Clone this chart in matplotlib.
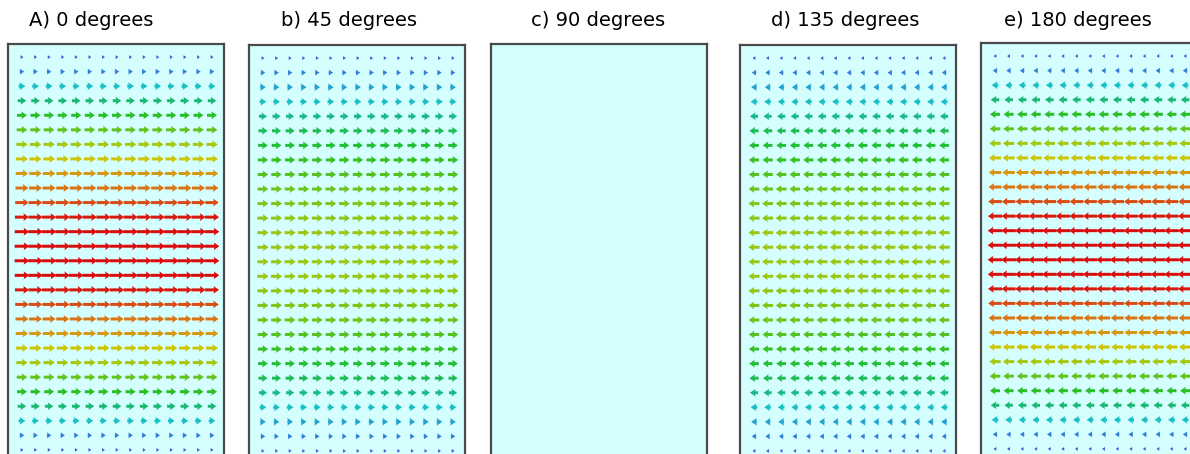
import numpy as np
import matplotlib
matplotlib.use("Agg")
import matplotlib.pyplot as plt
from matplotlib.colors import LinearSegmentedColormap

# Panel titles
titles = ["A) 0 degrees", "b) 45 degrees", "c) 90 degrees", "d) 135 degrees", "e) 180 degrees"]

# Flow direction per panel (+1 right, -1 left, 0 no flow)
directions = [1, 1, 0, -1, -1]

# Normalised speed for each row of arrows, top to bottom
speed_0 = [0.20, 0.30, 0.45, 0.58, 0.68, 0.72, 0.77, 0.81, 0.85, 0.88, 0.92, 0.96, 0.99, 1.00,
           1.00, 0.99, 0.96, 0.92, 0.88, 0.85, 0.81, 0.77, 0.72, 0.68, 0.58, 0.45, 0.30, 0.20]
speed_45 = [0.20, 0.30, 0.38, 0.45, 0.55, 0.62, 0.66, 0.69, 0.71, 0.73, 0.74, 0.75, 0.76, 0.76,
            0.76, 0.76, 0.75, 0.74, 0.73, 0.71, 0.69, 0.66, 0.62, 0.55, 0.45, 0.38, 0.30, 0.20]
speed_90 = [0.0] * 28
speed_135 = speed_45
speed_180 = speed_0
speeds = [speed_0, speed_45, speed_90, speed_135, speed_180]

n_cols = 15

# Colour scale for speed
cmap = LinearSegmentedColormap.from_list(
    "speed",
    [(0.00, (0.25, 0.25, 0.85)),
     (0.15, (0.25, 0.30, 0.85)),
     (0.30, (0.20, 0.50, 0.85)),
     (0.45, (0.10, 0.75, 0.78)),
     (0.58, (0.10, 0.72, 0.45)),
     (0.68, (0.15, 0.75, 0.15)),
     (0.76, (0.60, 0.78, 0.08)),
     (0.81, (0.80, 0.78, 0.00)),
     (0.86, (0.85, 0.55, 0.08)),
     (0.92, (0.85, 0.30, 0.08)),
     (0.97, (0.85, 0.05, 0.05)),
     (1.00, (0.85, 0.05, 0.05))])

W, H = 1190, 454
fig = plt.figure(figsize=(W / 100, H / 100), dpi=100)

# Panel frames in pixels: left, top, width, height
panel_left = [8, 249, 491, 740, 981]
panel_top = [44, 45, 44, 45, 43]
panel_w = 216
panel_h = 419
title_x = [91, 349, 598, 845, 1078]

bg = "#d5ffff"
for k in range(5):
    l, t = panel_left[k], panel_top[k]
    ax = fig.add_axes([l / W, 1 - (t + panel_h) / H, panel_w / W, panel_h / H])
    ax.set_facecolor(bg)
    ax.set_xlim(-1.03, 14.88)
    ax.set_ylim(27.9, -0.9)
    ax.set_xticks([])
    ax.set_yticks([])
    for s in ax.spines.values():
        s.set_color("#4a4a4a")
        s.set_linewidth(1.6)

    sp = np.array(speeds[k])
    if directions[k] != 0:
        X, Y = np.meshgrid(np.arange(n_cols), np.arange(len(sp)))
        M = np.repeat(sp[:, None], n_cols, axis=1)
        U = directions[k] * M
        V = np.zeros_like(U)
        ax.quiver(X, Y, U, V, M, cmap=cmap, clim=(0, 1), pivot="mid",
                  angles="xy", scale_units="x", scale=0.92,
                  units="dots", width=3.0, headwidth=2.6, headlength=1.9,
                  headaxislength=1.7, minlength=0.3)

    fig.text(title_x[k] / W, 1 - 21 / H, titles[k], ha="center", va="center",
             fontsize=14, family="DejaVu Sans")

fig.savefig("out.png", dpi=100)
